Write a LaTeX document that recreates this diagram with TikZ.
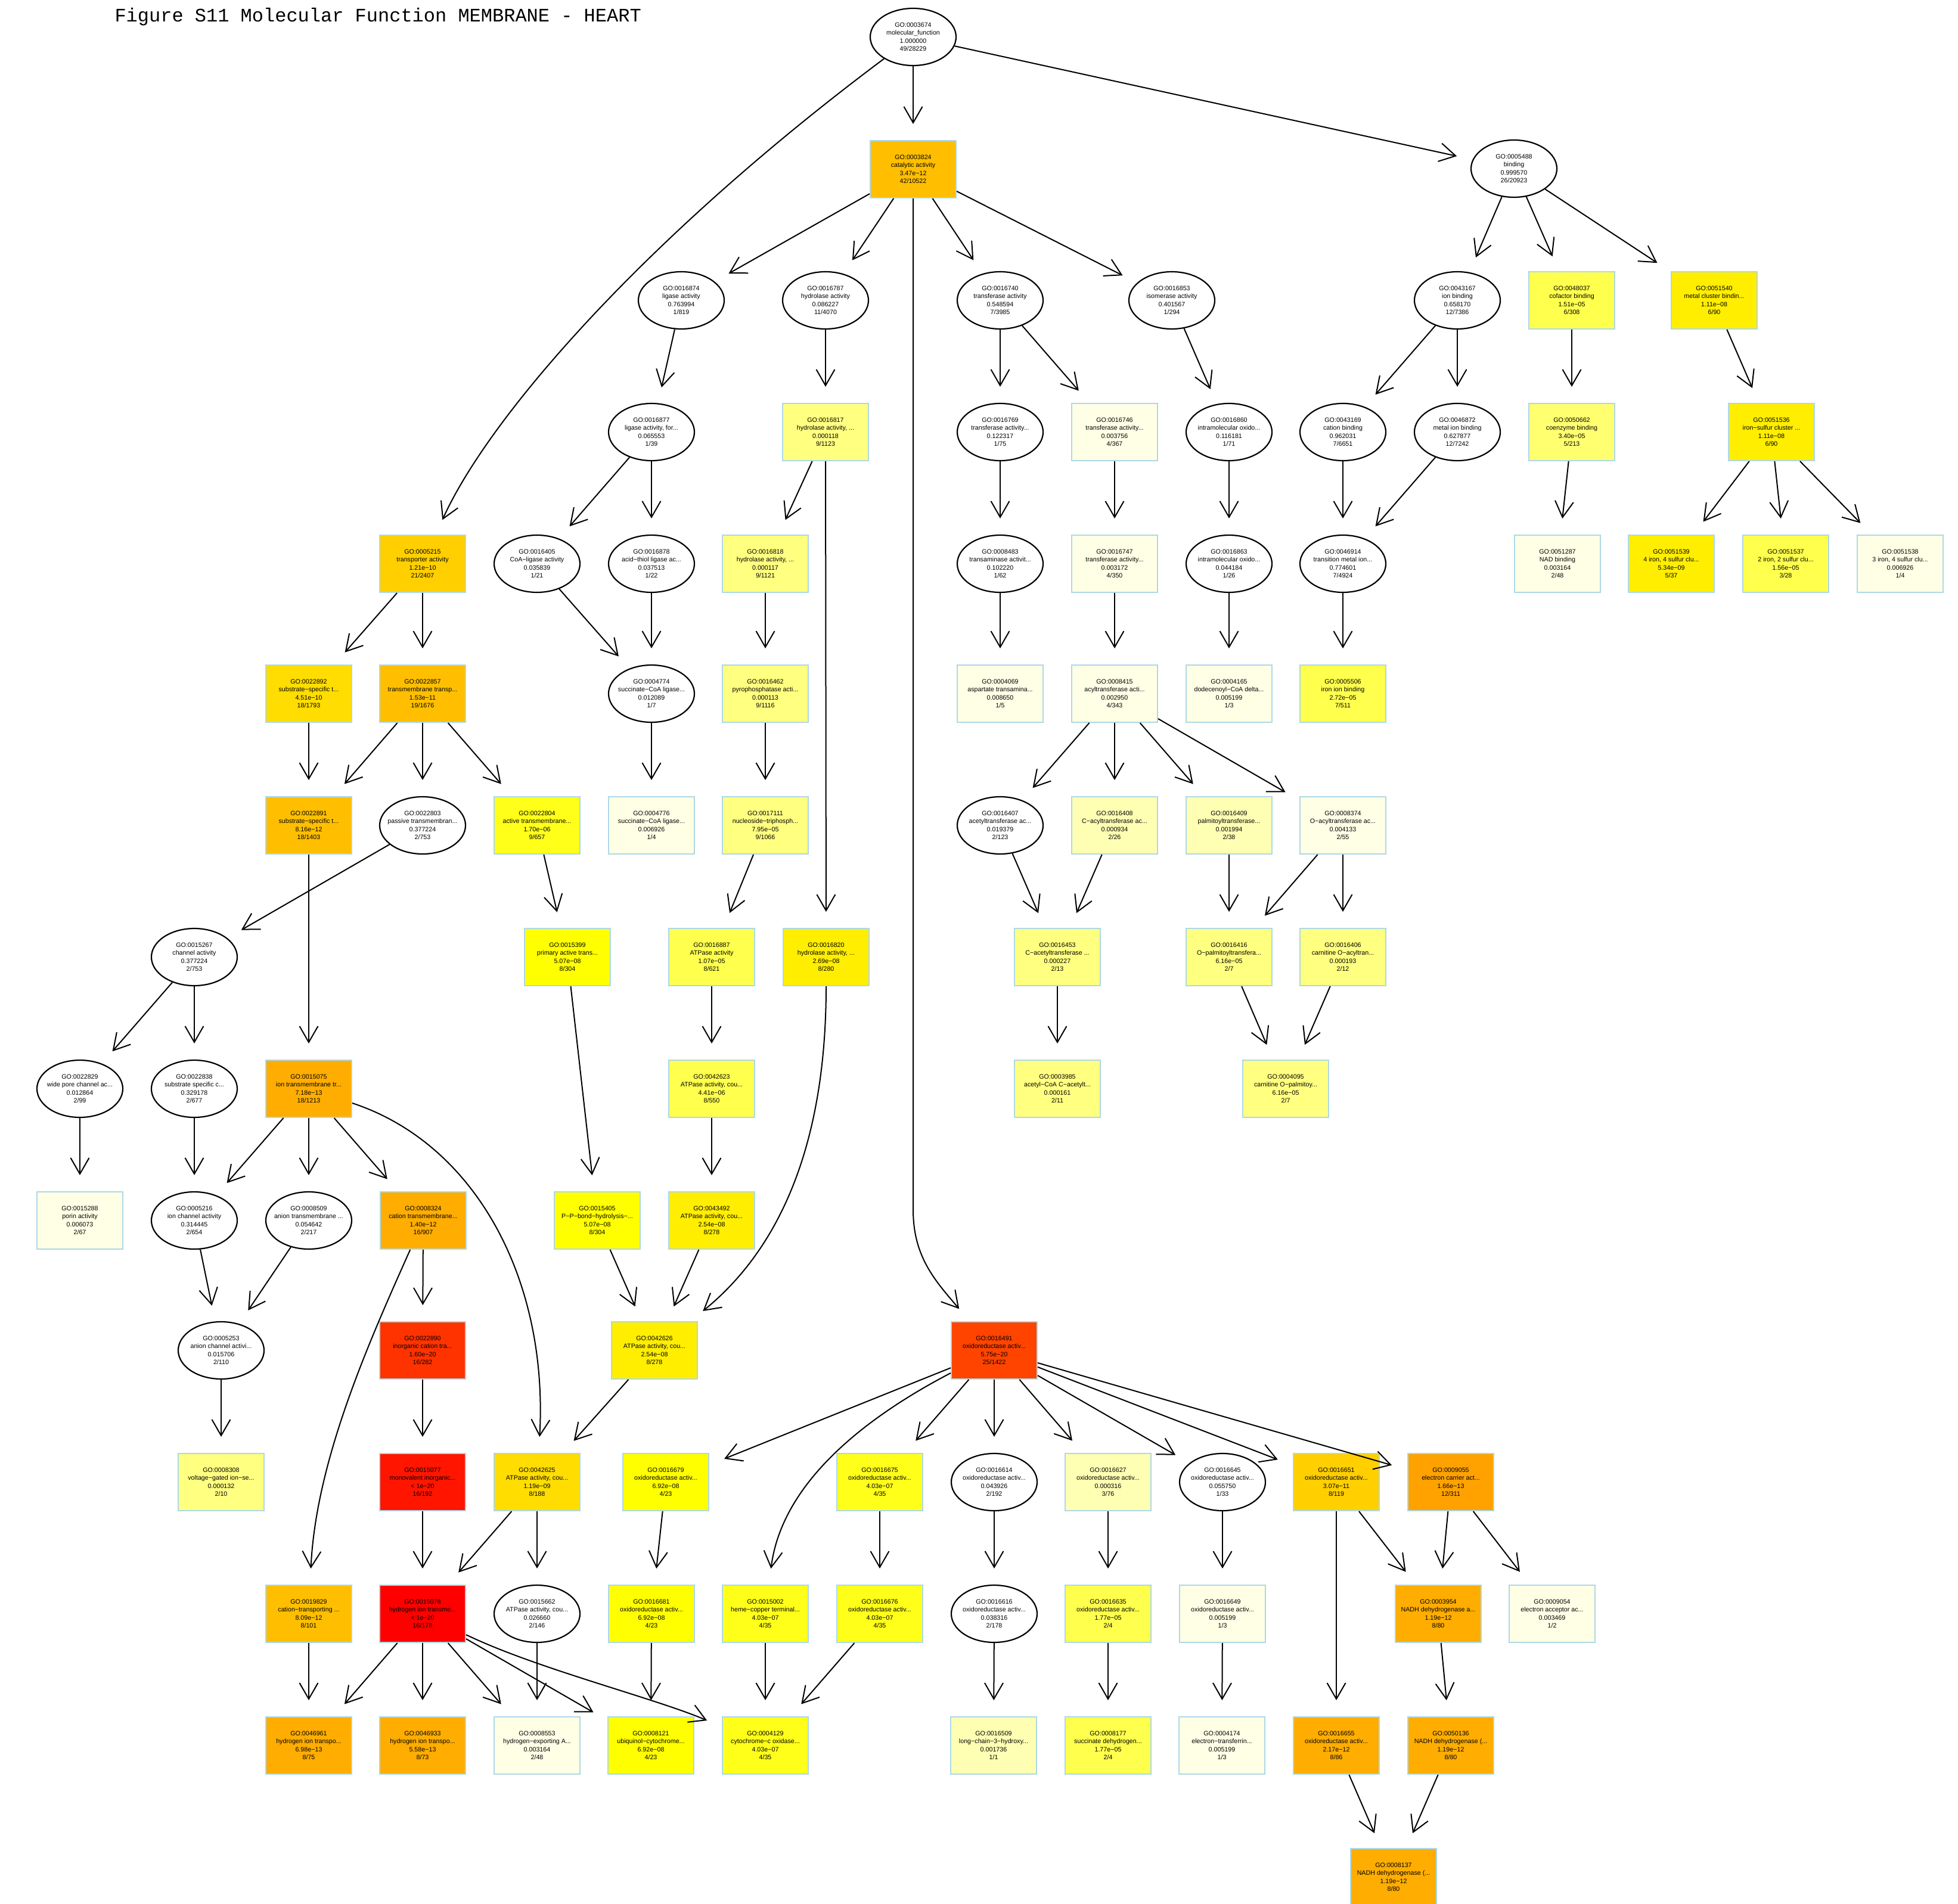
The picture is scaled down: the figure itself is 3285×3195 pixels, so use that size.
\documentclass[tikz,border=0pt]{standalone}
\usepackage{fontspec}
\setmainfont{Liberation Sans}
\newfontfamily\titlefont{Liberation Mono}
\usetikzlibrary{shapes.geometric,arrows.meta}
\definecolor{sred}{HTML}{FF0000}
\definecolor{sredb}{HTML}{FF1500}
\definecolor{sredc}{HTML}{FF3300}
\definecolor{sredd}{HTML}{FF4400}
\definecolor{sora}{HTML}{FFA200}
\definecolor{sorb}{HTML}{FFAD00}
\definecolor{sorc}{HTML}{FFBF00}
\definecolor{sgolda}{HTML}{FFCF00}
\definecolor{sgoldb}{HTML}{FFDD00}
\definecolor{syela}{HTML}{FFEE00}
\definecolor{syelb}{HTML}{FFFF00}
\definecolor{syelc}{HTML}{FFFF1A}
\definecolor{syeld}{HTML}{FFFF4D}
\definecolor{syele}{HTML}{FFFF70}
\definecolor{syelf}{HTML}{FFFF80}
\definecolor{syelg}{HTML}{FFFFB3}
\definecolor{syelh}{HTML}{FFFFE6}
\definecolor{nodeline}{HTML}{ADD8E6}
\tikzset{
  gonode/.style={align=center,inner sep=0pt,minimum width=144pt,minimum height=96pt,
    font=\fontsize{10.7}{13.5}\selectfont},
  gobox/.style={gonode,rectangle,draw=nodeline,line width=2pt},
  goell/.style={gonode,ellipse,draw=black,line width=2.2pt,fill=white},
  golink/.style={line width=2pt,-{Straight Barb[length=27pt,width=31pt]},shorten >=27pt}
}
\newcommand{\gotxt}[4]{\makebox[0pt]{#1}\\\makebox[0pt]{#2}\\\makebox[0pt]{#3}\\\makebox[0pt]{#4}}

\begin{document}
\begin{tikzpicture}[x=1pt,y=-1pt]
\fill[white](0,0)rectangle(3285,3195);
\useasboundingbox(0,0)rectangle(3285,3195);
%title
\node[anchor=base west,font=\titlefont\fontsize{32}{38}\selectfont](title)at(189,37){Figure S11 Molecular Function MEMBRANE - HEART};
%row 0 and 1
\node[goell](n3674)at(1532,62){\gotxt{GO:0003674}{molecular\_function}{1.000000}{49/28229}};
\node[gobox,fill=sorc](n3824)at(1532,284){\gotxt{GO:0003824}{catalytic activity}{3.47e−12}{42/10522}};
\node[goell](n5488)at(2540,283){\gotxt{GO:0005488}{binding}{0.999570}{26/20923}};
%row 2
\node[goell](n16874)at(1143,504){\gotxt{GO:0016874}{ligase activity}{0.763994}{1/819}};
\node[goell](n16787)at(1385,504){\gotxt{GO:0016787}{hydrolase activity}{0.086227}{11/4070}};
\node[goell](n16740)at(1678,504){\gotxt{GO:0016740}{transferase activity}{0.548594}{7/3985}};
\node[goell](n16853)at(1966,504){\gotxt{GO:0016853}{isomerase activity}{0.401567}{1/294}};
\node[goell](n43167)at(2445,504){\gotxt{GO:0043167}{ion binding}{0.658170}{12/7386}};
\node[gobox,fill=syeld](n48037)at(2637,504){\gotxt{GO:0048037}{cofactor binding}{1.51e−05}{6/308}};
\node[gobox,fill=syela](n51540)at(2876,504){\gotxt{GO:0051540}{metal cluster bindin...}{1.11e−08}{6/90}};
%row 3
\node[goell](n16877)at(1093,725){\gotxt{GO:0016877}{ligase activity, for...}{0.065553}{1/39}};
\node[gobox,fill=syelf](n16817)at(1385,725){\gotxt{GO:0016817}{hydrolase activity, ...}{0.000118}{9/1123}};
\node[goell](n16769)at(1678,725){\gotxt{GO:0016769}{transferase activity...}{0.122317}{1/75}};
\node[gobox,fill=syelh](n16746)at(1870,725){\gotxt{GO:0016746}{transferase activity...}{0.003756}{4/367}};
\node[goell](n16860)at(2062,725){\gotxt{GO:0016860}{intramolecular oxido...}{0.116181}{1/71}};
\node[goell](n43169)at(2253,725){\gotxt{GO:0043169}{cation binding}{0.962031}{7/6651}};
\node[goell](n46872)at(2445,725){\gotxt{GO:0046872}{metal ion binding}{0.627877}{12/7242}};
\node[gobox,fill=syele](n50662)at(2637,725){\gotxt{GO:0050662}{coenzyme binding}{3.40e−05}{5/213}};
\node[gobox,fill=syela](n51536)at(2972,725){\gotxt{GO:0051536}{iron−sulfur cluster ...}{1.11e−08}{6/90}};
%row 4
\node[gobox,fill=sgolda](n5215)at(709,946){\gotxt{GO:0005215}{transporter activity}{1.21e−10}{21/2407}};
\node[goell](n16405)at(901,946){\gotxt{GO:0016405}{CoA−ligase activity}{0.035839}{1/21}};
\node[goell](n16878)at(1093,946){\gotxt{GO:0016878}{acid−thiol ligase ac...}{0.037513}{1/22}};
\node[gobox,fill=syelf](n16818)at(1284,946){\gotxt{GO:0016818}{hydrolase activity, ...}{0.000117}{9/1121}};
\node[goell](n8483)at(1678,946){\gotxt{GO:0008483}{transaminase activit...}{0.102220}{1/62}};
\node[gobox,fill=syelh](n16747)at(1870,946){\gotxt{GO:0016747}{transferase activity...}{0.003172}{4/350}};
\node[goell](n16863)at(2062,946){\gotxt{GO:0016863}{intramolecular oxido...}{0.044184}{1/26}};
\node[goell](n46914)at(2253,946){\gotxt{GO:0046914}{transition metal ion...}{0.774601}{7/4924}};
\node[gobox,fill=syelh](n51287)at(2613,946){\gotxt{GO:0051287}{NAD binding}{0.003164}{2/48}};
\node[gobox,fill=syela](n51539)at(2804,946){\gotxt{GO:0051539}{4 iron, 4 sulfur clu...}{5.34e−09}{5/37}};
\node[gobox,fill=syeld](n51537)at(2996,946){\gotxt{GO:0051537}{2 iron, 2 sulfur clu...}{1.56e−05}{3/28}};
\node[gobox,fill=syelh](n51538)at(3188,946){\gotxt{GO:0051538}{3 iron, 4 sulfur clu...}{0.006926}{1/4}};
%row 5
\node[gobox,fill=sgoldb](n22892)at(518,1164){\gotxt{GO:0022892}{substrate−specific t...}{4.51e−10}{18/1793}};
\node[gobox,fill=sorc](n22857)at(709,1164){\gotxt{GO:0022857}{transmembrane transp...}{1.53e−11}{19/1676}};
\node[goell](n4774)at(1093,1164){\gotxt{GO:0004774}{succinate−CoA ligase...}{0.012089}{1/7}};
\node[gobox,fill=syelf](n16462)at(1284,1164){\gotxt{GO:0016462}{pyrophosphatase acti...}{0.000113}{9/1116}};
\node[gobox,fill=syelh](n4069)at(1678,1164){\gotxt{GO:0004069}{aspartate transamina...}{0.008650}{1/5}};
\node[gobox,fill=syelh](n8415)at(1870,1164){\gotxt{GO:0008415}{acyltransferase acti...}{0.002950}{4/343}};
\node[gobox,fill=syelh](n4165)at(2062,1164){\gotxt{GO:0004165}{dodecenoyl−CoA delta...}{0.005199}{1/3}};
\node[gobox,fill=syeld](n5506)at(2253,1164){\gotxt{GO:0005506}{iron ion binding}{2.72e−05}{7/511}};
%row 6
\node[gobox,fill=sorc](n22891)at(518,1385){\gotxt{GO:0022891}{substrate−specific t...}{8.16e−12}{18/1403}};
\node[goell](n22803)at(709,1385){\gotxt{GO:0022803}{passive transmembran...}{0.377224}{2/753}};
\node[gobox,fill=syelc](n22804)at(901,1385){\gotxt{GO:0022804}{active transmembrane...}{1.70e−06}{9/657}};
\node[gobox,fill=syelh](n4776)at(1093,1385){\gotxt{GO:0004776}{succinate−CoA ligase...}{0.006926}{1/4}};
\node[gobox,fill=syelf](n17111)at(1284,1385){\gotxt{GO:0017111}{nucleoside−triphosph...}{7.95e−05}{9/1066}};
\node[goell](n16407)at(1678,1385){\gotxt{GO:0016407}{acetyltransferase ac...}{0.019379}{2/123}};
\node[gobox,fill=syelg](n16408)at(1870,1385){\gotxt{GO:0016408}{C−acyltransferase ac...}{0.000934}{2/26}};
\node[gobox,fill=syelg](n16409)at(2062,1385){\gotxt{GO:0016409}{palmitoyltransferase...}{0.001994}{2/38}};
\node[gobox,fill=syelh](n8374)at(2253,1385){\gotxt{GO:0008374}{O−acyltransferase ac...}{0.004133}{2/55}};
%row 7
\node[goell](n15267)at(326,1606){\gotxt{GO:0015267}{channel activity}{0.377224}{2/753}};
\node[gobox,fill=syelb](n15399)at(952,1606){\gotxt{GO:0015399}{primary active trans...}{5.07e−08}{8/304}};
\node[gobox,fill=syeld](n16887)at(1194,1606){\gotxt{GO:0016887}{ATPase activity}{1.07e−05}{8/621}};
\node[gobox,fill=syela](n16820)at(1386,1606){\gotxt{GO:0016820}{hydrolase activity, ...}{2.69e−08}{8/280}};
\node[gobox,fill=syelf](n16453)at(1774,1606){\gotxt{GO:0016453}{C−acetyltransferase ...}{0.000227}{2/13}};
\node[gobox,fill=syelf](n16416)at(2062,1606){\gotxt{GO:0016416}{O−palmitoyltransfera...}{6.16e−05}{2/7}};
\node[gobox,fill=syelf](n16406)at(2253,1606){\gotxt{GO:0016406}{carnitine O−acyltran...}{0.000193}{2/12}};
%row 8
\node[goell](n22829)at(134,1827){\gotxt{GO:0022829}{wide pore channel ac...}{0.012864}{2/99}};
\node[goell](n22838)at(326,1827){\gotxt{GO:0022838}{substrate specific c...}{0.329178}{2/677}};
\node[gobox,fill=sorb](n15075)at(518,1827){\gotxt{GO:0015075}{ion transmembrane tr...}{7.18e−13}{18/1213}};
\node[gobox,fill=syeld](n42623)at(1194,1827){\gotxt{GO:0042623}{ATPase activity, cou...}{4.41e−06}{8/550}};
\node[gobox,fill=syelf](n3985)at(1774,1827){\gotxt{GO:0003985}{acetyl−CoA C−acetylt...}{0.000161}{2/11}};
\node[gobox,fill=syelf](n4095)at(2157,1827){\gotxt{GO:0004095}{carnitine O−palmitoy...}{6.16e−05}{2/7}};
%row 9
\node[gobox,fill=syelh](n15288)at(134,2048){\gotxt{GO:0015288}{porin activity}{0.006073}{2/67}};
\node[goell](n5216)at(326,2048){\gotxt{GO:0005216}{ion channel activity}{0.314445}{2/654}};
\node[goell](n8509)at(518,2048){\gotxt{GO:0008509}{anion transmembrane ...}{0.054642}{2/217}};
\node[gobox,fill=sorb](n8324)at(710,2048){\gotxt{GO:0008324}{cation transmembrane...}{1.40e−12}{16/907}};
\node[gobox,fill=syelb](n15405)at(1002,2048){\gotxt{GO:0015405}{P−P−bond−hydrolysis−...}{5.07e−08}{8/304}};
\node[gobox,fill=syela](n43492)at(1194,2048){\gotxt{GO:0043492}{ATPase activity, cou...}{2.54e−08}{8/278}};
%row 10
\node[goell](n5253)at(371,2266){\gotxt{GO:0005253}{anion channel activi...}{0.015706}{2/110}};
\node[gobox,fill=sredc](n22890)at(709,2266){\gotxt{GO:0022890}{inorganic cation tra...}{1.60e−20}{16/282}};
\node[gobox,fill=syela](n42626)at(1098,2266){\gotxt{GO:0042626}{ATPase activity, cou...}{2.54e−08}{8/278}};
\node[gobox,fill=sredd](n16491)at(1668,2266){\gotxt{GO:0016491}{oxidoreductase activ...}{5.75e−20}{25/1422}};
%row 11
\node[gobox,fill=syelf](n8308)at(371,2487){\gotxt{GO:0008308}{voltage−gated ion−se...}{0.000132}{2/10}};
\node[gobox,fill=sredb](n15077)at(709,2487){\gotxt{GO:0015077}{monovalent inorganic...}{< 1e−20}{16/192}};
\node[gobox,fill=sgoldb](n42625)at(901,2487){\gotxt{GO:0042625}{ATPase activity, cou...}{1.19e−09}{8/188}};
\node[gobox,fill=syelb](n16679)at(1117,2487){\gotxt{GO:0016679}{oxidoreductase activ...}{6.92e−08}{4/23}};
\node[gobox,fill=syelc](n16675)at(1476,2487){\gotxt{GO:0016675}{oxidoreductase activ...}{4.03e−07}{4/35}};
\node[goell](n16614)at(1668,2487){\gotxt{GO:0016614}{oxidoreductase activ...}{0.043926}{2/192}};
\node[gobox,fill=syelg](n16627)at(1859,2487){\gotxt{GO:0016627}{oxidoreductase activ...}{0.000316}{3/76}};
\node[goell](n16645)at(2051,2487){\gotxt{GO:0016645}{oxidoreductase activ...}{0.055750}{1/33}};
\node[gobox,fill=sgolda](n16651)at(2242,2487){\gotxt{GO:0016651}{oxidoreductase activ...}{3.07e−11}{8/119}};
\node[gobox,fill=sora](n9055)at(2434,2487){\gotxt{GO:0009055}{electron carrier act...}{1.66e−13}{12/311}};
%row 12
\node[gobox,fill=sorc](n19829)at(518,2708){\gotxt{GO:0019829}{cation−transporting ...}{8.09e−12}{8/101}};
\node[gobox,fill=sred](n15078)at(709,2708){\gotxt{GO:0015078}{hydrogen ion transme...}{< 1e−20}{16/178}};
\node[goell](n15662)at(901,2708){\gotxt{GO:0015662}{ATPase activity, cou...}{0.026660}{2/146}};
\node[gobox,fill=syelb](n16681)at(1093,2708){\gotxt{GO:0016681}{oxidoreductase activ...}{6.92e−08}{4/23}};
\node[gobox,fill=syelc](n15002)at(1284,2708){\gotxt{GO:0015002}{heme−copper terminal...}{4.03e−07}{4/35}};
\node[gobox,fill=syelc](n16676)at(1476,2708){\gotxt{GO:0016676}{oxidoreductase activ...}{4.03e−07}{4/35}};
\node[goell](n16616)at(1668,2708){\gotxt{GO:0016616}{oxidoreductase activ...}{0.038316}{2/178}};
\node[gobox,fill=syeld](n16635)at(1859,2708){\gotxt{GO:0016635}{oxidoreductase activ...}{1.77e−05}{2/4}};
\node[gobox,fill=syelh](n16649)at(2051,2708){\gotxt{GO:0016649}{oxidoreductase activ...}{0.005199}{1/3}};
\node[gobox,fill=sorb](n3954)at(2413,2708){\gotxt{GO:0003954}{NADH dehydrogenase a...}{1.19e−12}{8/80}};
\node[gobox,fill=syelh](n9054)at(2604,2708){\gotxt{GO:0009054}{electron acceptor ac...}{0.003469}{1/2}};
%row 13
\node[gobox,fill=sorb](n46961)at(518,2929){\gotxt{GO:0046961}{hydrogen ion transpo...}{6.98e−13}{8/75}};
\node[gobox,fill=sorb](n46933)at(709,2929){\gotxt{GO:0046933}{hydrogen ion transpo...}{5.58e−13}{8/73}};
\node[gobox,fill=syelh](n8553)at(901,2929){\gotxt{GO:0008553}{hydrogen−exporting A...}{0.003164}{2/48}};
\node[gobox,fill=syelb](n8121)at(1092,2929){\gotxt{GO:0008121}{ubiquinol−cytochrome...}{6.92e−08}{4/23}};
\node[gobox,fill=syelc](n4129)at(1284,2929){\gotxt{GO:0004129}{cytochrome−c oxidase...}{4.03e−07}{4/35}};
\node[gobox,fill=syelg](n16509)at(1667,2929){\gotxt{GO:0016509}{long−chain−3−hydroxy...}{0.001736}{1/1}};
\node[gobox,fill=syeld](n8177)at(1859,2929){\gotxt{GO:0008177}{succinate dehydrogen...}{1.77e−05}{2/4}};
\node[gobox,fill=syelh](n4174)at(2050,2929){\gotxt{GO:0004174}{electron−transferrin...}{0.005199}{1/3}};
\node[gobox,fill=sorb](n16655)at(2242,2929){\gotxt{GO:0016655}{oxidoreductase activ...}{2.17e−12}{8/86}};
\node[gobox,fill=sorb](n50136)at(2434,2929){\gotxt{GO:0050136}{NADH dehydrogenase (...}{1.19e−12}{8/80}};
%row 14
\node[gobox,fill=sorb](n8137)at(2338,3150){\gotxt{GO:0008137}{NADH dehydrogenase (...}{1.19e−12}{8/80}};
%edges, top part
\draw[golink](n3674)..controls(1080,400)and(820,700)..(n5215);
\draw[golink](n3674)--(n3824);
\draw[golink](n3674)--(n5488);
\draw[golink](n3824)--(n16874);
\draw[golink](n3824)--(n16787);
\draw[golink](n3824)--(n16740);
\draw[golink](n3824)--(n16853);
\draw[golink](n3824)--(1532,2030)..controls(1532,2110)and(1570,2150)..(n16491);
\draw[golink](n5488)--(n43167);
\draw[golink](n5488)--(n48037);
\draw[golink](n5488)--(n51540);
\draw[golink](n16874)--(n16877);
\draw[golink](n16787)--(n16817);
\draw[golink](n16740)--(n16769);
\draw[golink](n16740)--(n16746);
\draw[golink](n16853)--(n16860);
\draw[golink](n43167)--(n43169);
\draw[golink](n43167)--(n46872);
\draw[golink](n48037)--(n50662);
\draw[golink](n51540)--(n51536);
\draw[golink](n16877)--(n16405);
\draw[golink](n16877)--(n16878);
\draw[golink](n16817)--(n16818);
\draw[golink](n16817)--(n16820);
\draw[golink](n16769)--(n8483);
\draw[golink](n16746)--(n16747);
\draw[golink](n16860)--(n16863);
\draw[golink](n43169)--(n46914);
\draw[golink](n46872)--(n46914);
\draw[golink](n50662)--(n51287);
\draw[golink](n51536)--(n51539);
\draw[golink](n51536)--(n51537);
\draw[golink](n51536)--(n51538);
%edges, middle part
\draw[golink](n5215)--(n22892);
\draw[golink](n5215)--(n22857);
\draw[golink](n16405)--(n4774);
\draw[golink](n16878)--(n4774);
\draw[golink](n16818)--(n16462);
\draw[golink](n8483)--(n4069);
\draw[golink](n16747)--(n8415);
\draw[golink](n16863)--(n4165);
\draw[golink](n46914)--(n5506);
\draw[golink](n22892)--(n22891);
\draw[golink](n22857)--(n22891);
\draw[golink](n22857)--(n22803);
\draw[golink](n22857)--(n22804);
\draw[golink](n4774)--(n4776);
\draw[golink](n16462)--(n17111);
\draw[golink](n8415)--(n16407);
\draw[golink](n8415)--(n16408);
\draw[golink](n8415)--(n16409);
\draw[golink](n8415)--(n8374);
\draw[golink](n22891)--(n15075);
\draw[golink](n22803)--(n15267);
\draw[golink](n22804)--(n15399);
\draw[golink](n17111)--(n16887);
\draw[golink](n16407)--(n16453);
\draw[golink](n16408)--(n16453);
\draw[golink](n16409)--(n16416);
\draw[golink](n8374)--(n16416);
\draw[golink](n8374)--(n16406);
\draw[golink](n15267)--(n22829);
\draw[golink](n15267)--(n22838);
\draw[golink](n15399)--(n15405);
\draw[golink](n16887)--(n42623);
\draw[golink](n16820)..controls(1386,1950)and(1290,2110)..(n42626);
\draw[golink](n16453)--(n3985);
\draw[golink](n16416)--(n4095);
\draw[golink](n16406)--(n4095);
\draw[golink](n22829)--(n15288);
\draw[golink](n22838)--(n5216);
\draw[golink](n15075)--(n5216);
\draw[golink](n15075)--(n8509);
\draw[golink](n15075)--(n8324);
\draw[golink](n15075)..controls(800,1920)and(920,2150)..(n42625);
\draw[golink](n42623)--(n43492);
%edges, lower part
\draw[golink](n5216)--(n5253);
\draw[golink](n8509)--(n5253);
\draw[golink](n8324)--(n22890);
\draw[golink](n8324)..controls(620,2250)and(530,2450)..(n19829);
\draw[golink](n15405)--(n42626);
\draw[golink](n43492)--(n42626);
\draw[golink](n5253)--(n8308);
\draw[golink](n22890)--(n15077);
\draw[golink](n42626)--(n42625);
\draw[golink](n16491)--(n16679);
\draw[golink](n16491)..controls(1430,2390)and(1310,2500)..(n15002);
\draw[golink](n16491)--(n16675);
\draw[golink](n16491)--(n16614);
\draw[golink](n16491)--(n16627);
\draw[golink](n16491)--(n16645);
\draw[golink](n16491)--(n16651);
\draw[golink](n16491)--(n9055);
\draw[golink](n15077)--(n15078);
\draw[golink](n42625)--(n15078);
\draw[golink](n42625)--(n15662);
\draw[golink](n16679)--(n16681);
\draw[golink](n16675)--(n16676);
\draw[golink](n16614)--(n16616);
\draw[golink](n16627)--(n16635);
\draw[golink](n16645)--(n16649);
\draw[golink](n16651)--(n16655);
\draw[golink](n16651)--(n3954);
\draw[golink](n9055)--(n3954);
\draw[golink](n9055)--(n9054);
\draw[golink](n19829)--(n46961);
\draw[golink](n15078)--(n46961);
\draw[golink](n15078)--(n46933);
\draw[golink](n15078)--(n8553);
\draw[golink](n15078)--(n8121);
\draw[golink](n15078)..controls(900,2800)and(1100,2850)..(n4129);
\draw[golink](n15662)--(n8553);
\draw[golink](n16681)--(n8121);
\draw[golink](n15002)--(n4129);
\draw[golink](n16676)--(n4129);
\draw[golink](n16616)--(n16509);
\draw[golink](n16635)--(n8177);
\draw[golink](n16649)--(n4174);
\draw[golink](n3954)--(n50136);
\draw[golink](n16655)--(n8137);
\draw[golink](n50136)--(n8137);
\end{tikzpicture}
\end{document}
